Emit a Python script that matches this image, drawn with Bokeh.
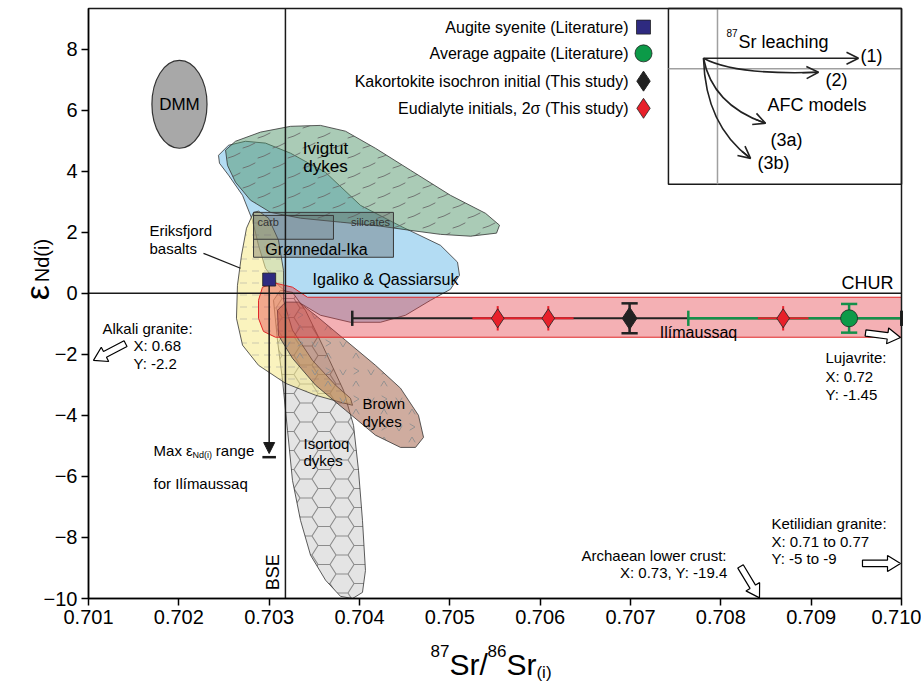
import base64
import numpy as np
from bokeh.plotting import figure
from bokeh.models import (Range1d, Label, Arrow, OpenHead, NormalHead, LinearAxis,
                          FixedTicker, NumeralTickFormatter, ImageURLTexture)
from bokeh.embed import file_html
from bokeh.resources import INLINE

FONT = "Liberation Sans"

# ---------------------------------------------------------------- axes
x_ticks = [0.701, 0.702, 0.703, 0.704, 0.705, 0.706, 0.707, 0.708, 0.709, 0.710]
y_ticks = [-10, -8, -6, -4, -2, 0, 2, 4, 6, 8]
X_MIN, X_MAX = 0.701, 0.710
Y_MIN, Y_MAX = -10.0, 9.33

# ---------------------------------------------------------------- reference lines
bse_sr = 0.70318      # bulk silicate earth
chur_nd = 0.0         # chondritic uniform reservoir

# ---------------------------------------------------------------- literature fields
igaliko_x = [0.702439, 0.702550, 0.702738, 0.702959, 0.703236, 0.703624, 0.704011,
             0.704454, 0.704897, 0.705085, 0.705107, 0.705007, 0.704786, 0.704509,
             0.704232, 0.703900, 0.703568, 0.703292, 0.703103, 0.702959, 0.702882,
             0.702815, 0.702705, 0.702550, 0.702450]
igaliko_y = [4.52, 4.85, 4.98, 4.92, 4.59, 3.96, 2.88, 2.20, 1.57, 1.02, 0.59, 0.13,
             -0.23, -0.72, -0.95, -0.95, -0.72, -0.23, 0.26, 0.82, 1.57, 2.39, 3.21,
             3.87, 4.26]

ivigtut_x = [0.702517, 0.702627, 0.702904, 0.703236, 0.703568, 0.703845, 0.704177,
             0.704565, 0.705007, 0.705395, 0.705550, 0.705517, 0.705229, 0.704897,
             0.704565, 0.704232, 0.703790, 0.703347, 0.703015, 0.702793, 0.702627,
             0.702539]
ivigtut_y = [4.69, 4.98, 5.28, 5.47, 5.50, 5.31, 4.75, 4.03, 3.21, 2.62, 2.23, 1.97,
             1.87, 1.93, 2.06, 2.20, 2.33, 2.46, 2.65, 3.05, 3.64, 4.19]

isortoq_x = [0.703048, 0.703125, 0.703258, 0.703402, 0.703590, 0.703823, 0.703934,
             0.703989, 0.704033, 0.704066, 0.704033, 0.703923, 0.703790, 0.703624,
             0.703458, 0.703347, 0.703258, 0.703203, 0.703148, 0.703092]
isortoq_y = [-0.23, 0.10, 0.03, -0.56, -1.70, -3.18, -4.33, -5.80, -7.44, -9.08,
             -9.80, -10.0, -9.93, -9.40, -8.58, -7.44, -6.13, -4.49, -2.85, -1.54]

eriksfjord_x = [0.702827, 0.702749, 0.702694, 0.702649, 0.702638, 0.702705, 0.702882,
                0.703181, 0.703513, 0.703790, 0.703923, 0.703900, 0.703734, 0.703480,
                0.703258, 0.703159, 0.703159, 0.703103, 0.702993, 0.702882]
eriksfjord_y = [2.65, 2.13, 1.25, 0.26, -0.82, -1.70, -2.36, -2.95, -3.34, -3.57,
                -3.67, -3.44, -3.01, -2.20, -1.21, -0.23, 0.75, 1.74, 2.46, 2.69]

brown_x = [0.703092, 0.703181, 0.703325, 0.703513, 0.703845, 0.704177, 0.704454,
           0.704653, 0.704709, 0.704620, 0.704454, 0.704177, 0.703845, 0.703513,
           0.703258, 0.703103]
brown_y = [-0.56, -0.29, -0.29, -0.72, -1.54, -2.36, -3.11, -4.00, -4.72, -5.05,
           -5.05, -4.65, -3.83, -3.01, -2.13, -1.38]

ilim_x = [0.702882, 0.702926, 0.703070, 0.703258, 0.703424, 0.710, 0.710,
          0.703070, 0.702937, 0.702882]
ilim_y = [-0.23, 0.20, 0.33, 0.20, -0.13, -0.13, -1.44, -1.44, -1.25, -0.82]

# Grønnedal-Ika: whole field and carbonatite sub-field
gron_left, gron_right, gron_bottom, gron_top = 0.702827, 0.704376, 1.18, 2.65
carb_left, carb_right, carb_bottom, carb_top = 0.702827, 0.703712, 1.77, 2.55

# depleted MORB mantle
dmm_x, dmm_y, dmm_w, dmm_h = 0.702007, 6.19, 0.00061, 2.88

# ---------------------------------------------------------------- samples
aug_x, aug_y, aug_ymin = [0.70300], [0.45], [-5.31]          # augite syenite
agp_x, agp_y = [0.70942], [-0.82]                              # average agpaite
agp_xlo, agp_xhi, agp_yerr = [0.70764], [0.71120], [0.47]
kak_x, kak_y = [0.70699], [-0.82]                              # kakortokite isochron
kak_xlo, kak_xhi, kak_yerr = [0.70392], [0.71000], [0.49]
eud_x = [0.70553, 0.70609, 0.70869]                            # eudialyte initials
eud_y = [-0.82, -0.82, -0.82]
eud_xerr = [0.00028, 0.00028, 0.00028]
eud_yerr = [0.40, 0.40, 0.40]

# values of off-scale reservoirs (pointed at with hollow arrows)
alkali_y = -2.2
lujavrite_y = -1.45

# ---------------------------------------------------------------- figure
# The frame fills the whole canvas; the axes are pinned to the data box so
# that the axis titles can be composed from several text runs.
W, H = 921, 683
ML, MR, MT, MB = 88, 20, 8, 85
PX_X = (W - ML - MR) / (X_MAX - X_MIN)
PX_Y = (H - MT - MB) / (Y_MAX - Y_MIN)

p = figure(width=W, height=H,
           x_range=Range1d(X_MIN - ML / PX_X, X_MAX + MR / PX_X),
           y_range=Range1d(Y_MIN - MB / PX_Y, Y_MAX + MT / PX_Y),
           output_backend="svg", toolbar_location=None,
           x_axis_location=None, y_axis_location=None,
           min_border=0)
p.grid.visible = False
p.outline_line_color = None
p.background_fill_color = "white"
p.border_fill_color = "white"

xaxis = LinearAxis(fixed_location=Y_MIN, bounds=(X_MIN, X_MAX),
                   ticker=FixedTicker(ticks=x_ticks),
                   formatter=NumeralTickFormatter(format="0.000"))
yaxis = LinearAxis(fixed_location=X_MIN, bounds=(Y_MIN, Y_MAX),
                   ticker=FixedTicker(ticks=y_ticks))
for ax in (xaxis, yaxis):
    ax.axis_line_width = 1.5
    ax.major_tick_line_width = 1.5
    ax.major_tick_out = 7
    ax.major_tick_in = 0
    ax.minor_tick_line_color = None
    ax.major_label_text_font = FONT
    ax.major_label_text_font_size = "20px"
    ax.major_label_text_color = "black"
    ax.major_label_standoff = 4
p.add_layout(xaxis, "below")
p.add_layout(yaxis, "left")


def label(x, y, s, size=16, align="left", baseline="middle", angle=0, color="black"):
    p.add_layout(Label(x=x, y=y, text=s, text_font=FONT, text_font_size=f"{size}px",
                       text_align=align, text_baseline=baseline, angle=angle,
                       text_color=color))


def block_arrow(x0, y0, x1, y1, shaft=3.2, head=8.0, head_len=13.0):
    """Hollow block arrow from (x0, y0) to tip (x1, y1)."""
    a = np.array([x0 * PX_X, y0 * PX_Y])
    b = np.array([x1 * PX_X, y1 * PX_Y])
    d = (b - a) / np.linalg.norm(b - a)
    n = np.array([-d[1], d[0]])
    base = b - d * head_len
    pts = [a + n * shaft, base + n * shaft, base + n * head, b,
           base - n * head, base - n * shaft, a - n * shaft]
    xs = [q[0] / PX_X for q in pts]
    ys = [q[1] / PX_Y for q in pts]
    p.patch(xs, ys, fill_color="white", line_color="black", line_width=1.2)


def svg_texture(w, h, path_d, stroke="#8a8a8a", sw=1.0):
    svg = (f'<svg xmlns="http://www.w3.org/2000/svg" width="{w}" height="{h}" '
           f'viewBox="0 0 {w} {h}"><path d="{path_d}" fill="none" stroke="{stroke}" '
           f'stroke-width="{sw}" stroke-linecap="round"/></svg>')
    url = "data:image/svg+xml;base64," + base64.b64encode(svg.encode()).decode()
    return ImageURLTexture(url=url, repetition="repeat")


def honeycomb(w=36, h=19):
    parts = []
    for i in range(-1, 3):
        for j in range(-1, 3):
            for cx, cy in ((i * w, j * h + 4), (i * w + w / 2, j * h + h / 2 + 4)):
                pts = [(cx - w / 3, cy), (cx - w / 6, cy - h / 2), (cx + w / 6, cy - h / 2),
                       (cx + w / 3, cy), (cx + w / 6, cy + h / 2), (cx - w / 6, cy + h / 2)]
                parts.append("M" + " L".join(f"{x:.1f},{y:.1f}" for x, y in pts) + " Z")
    return svg_texture(w, h, " ".join(parts), stroke="#8c8c8c", sw=1.1)


def chevrons(w=28, h=28):
    d = ("M4,6 L7,11 L10,6 M17,22 L20,17 L23,22 "
         "M18,4 L23,7 L18,10")
    return svg_texture(w, h, d, stroke="#8f8f8f", sw=0.9)


def strokes(w=30, h=20):
    d = "M3,8 L9,6 L15,3 M18,18 L24,16 L30,13 M-12,18 L-6,16 L0,13"
    return svg_texture(w, h, d, stroke="#6a6a6a", sw=0.9)


# ---------------------------------------------------------------- fields
p.patch(igaliko_x, igaliko_y, fill_color="#7cc2ea", fill_alpha=0.58,
        line_color="#333333", line_width=0.8)
p.patch(ivigtut_x, ivigtut_y, fill_color="#4a9064", fill_alpha=0.47,
        line_color="#333333", line_width=0.8,
        hatch_pattern="strokes", hatch_extra={"strokes": strokes()},
        hatch_alpha=0.8)
p.patch(isortoq_x, isortoq_y, fill_color="#e4e4e4", fill_alpha=1.0,
        line_color="#333333", line_width=0.8,
        hatch_pattern="honeycomb", hatch_extra={"honeycomb": honeycomb()},
        hatch_alpha=1.0)
p.patch(eriksfjord_x, eriksfjord_y, fill_color="#f5ea88", fill_alpha=0.55,
        line_color="#333333", line_width=0.8,
        hatch_pattern="horizontal_dash", hatch_color="#9a9a9a",
        hatch_alpha=0.6, hatch_scale=12, hatch_weight=0.8)
p.patch(brown_x, brown_y, fill_color="#a05a40", fill_alpha=0.5,
        line_color="#333333", line_width=0.8,
        hatch_pattern="chevrons", hatch_extra={"chevrons": chevrons()},
        hatch_alpha=1.0)
p.patch(ilim_x, ilim_y, fill_color="#e3303a", fill_alpha=0.38,
        line_color="#e02828", line_width=1.0)
p.quad(left=[gron_left], right=[gron_right], bottom=[gron_bottom], top=[gron_top],
       fill_color="#5a5a5a", fill_alpha=0.35, line_color="#3a3a3a", line_width=1.0)
p.quad(left=[carb_left], right=[carb_right], bottom=[carb_bottom], top=[carb_top],
       fill_color="#5a5a5a", fill_alpha=0.2, line_color="#3a3a3a", line_width=1.0)
p.ellipse(x=[dmm_x], y=[dmm_y], width=[dmm_w], height=[dmm_h],
          fill_color="#a8a8a8", line_color="#333333", line_width=1.2)

# BSE and CHUR reference lines
p.segment(x0=[bse_sr], y0=[Y_MIN], x1=[bse_sr], y1=[Y_MAX], line_color="#1a1a1a",
          line_width=1.5)
p.segment(x0=[X_MIN], y0=[chur_nd], x1=[X_MAX], y1=[chur_nd], line_color="#1a1a1a",
          line_width=1.5)

# ---------------------------------------------------------------- error bars
cap_dx = 0.00009
kx1 = [min(v, X_MAX) for v in kak_xhi]
ax1 = [min(v, X_MAX) for v in agp_xhi]
p.segment(x0=kak_xlo, y0=kak_y, x1=kx1, y1=kak_y, line_color="#222222", line_width=2)
p.segment(x0=kak_xlo, y0=[v - 0.25 for v in kak_y], x1=kak_xlo,
          y1=[v + 0.25 for v in kak_y], line_color="#222222", line_width=2.5)
p.segment(x0=agp_xlo, y0=agp_y, x1=ax1, y1=agp_y, line_color="#15904a", line_width=2.5)
p.segment(x0=agp_xlo, y0=[v - 0.25 for v in agp_y], x1=agp_xlo,
          y1=[v + 0.25 for v in agp_y], line_color="#15904a", line_width=2.5)
p.segment(x0=kx1, y0=[v - 0.25 for v in kak_y], x1=kx1,
          y1=[v + 0.25 for v in kak_y], line_color="#222222", line_width=3)

ex0 = [x - e for x, e in zip(eud_x, eud_xerr)]
ex1 = [x + e for x, e in zip(eud_x, eud_xerr)]
p.segment(x0=ex0, y0=eud_y, x1=ex1, y1=eud_y, line_color="#e8202a", line_width=2)
p.segment(x0=eud_x, y0=[y - e for y, e in zip(eud_y, eud_yerr)], x1=eud_x,
          y1=[y + e for y, e in zip(eud_y, eud_yerr)], line_color="#e8202a", line_width=2)

for xs, ys, err, col in ((kak_x, kak_y, kak_yerr, "#222222"),
                         (agp_x, agp_y, agp_yerr, "#15904a")):
    lo = [y - e for y, e in zip(ys, err)]
    hi = [y + e for y, e in zip(ys, err)]
    p.segment(x0=xs, y0=lo, x1=xs, y1=hi, line_color=col, line_width=2.5)
    for ends in (lo, hi):
        p.segment(x0=[x - cap_dx for x in xs], y0=ends, x1=[x + cap_dx for x in xs],
                  y1=ends, line_color=col, line_width=2.5)

# augite syenite: maximum range arrow
p.add_layout(Arrow(end=NormalHead(size=11, fill_color="#1a1a1a", line_color="#1a1a1a"),
                   x_start=aug_x[0], y_start=aug_y[0] - 0.2, x_end=aug_x[0],
                   y_end=aug_ymin[0] + 0.06, line_width=1.5, line_color="#1a1a1a"))
p.segment(x0=[aug_x[0] - 0.000075], y0=[aug_ymin[0] - 0.06], x1=[aug_x[0] + 0.000075],
          y1=[aug_ymin[0] - 0.06], line_color="#1a1a1a", line_width=2.5)

# ---------------------------------------------------------------- markers
p.scatter(eud_x, eud_y, marker="diamond", size=19, fill_color="#e8202a",
          line_color="#222222", line_width=0.8)
p.scatter(kak_x, kak_y, marker="diamond", size=22, fill_color="#222222",
          line_color="#222222")
p.scatter(agp_x, agp_y, marker="circle", size=17, fill_color="#0c9a48",
          line_color="#222222", line_width=0.8)
p.scatter(aug_x, aug_y, marker="square", size=13, fill_color="#2e2a80",
          line_color="#222222", line_width=0.8)

# ---------------------------------------------------------------- legend
leg_text = ["Augite syenite (Literature)", "Average agpaite (Literature)",
            "Kakortokite isochron initial (This study)",
            "Eudialyte initials, 2\u03c3 (This study)"]
leg_y = [8.72, 7.86, 6.95, 6.06]
leg_mx, leg_tx = 0.707144, 0.706978
for s, yy in zip(leg_text, leg_y):
    label(leg_tx, yy, s, size=16, align="right")
p.scatter([leg_mx], [leg_y[0]], marker="square", size=14, fill_color="#2e2a80",
          line_color="#222222", line_width=0.8)
p.scatter([leg_mx], [leg_y[1]], marker="circle", size=17, fill_color="#0c9a48",
          line_color="#222222", line_width=0.8)
p.scatter([leg_mx], [leg_y[2]], marker="diamond", size=20, fill_color="#222222",
          line_color="#222222")
p.scatter([leg_mx], [leg_y[3]], marker="diamond", size=20, fill_color="#e8202a",
          line_color="#222222", line_width=0.8)

# ---------------------------------------------------------------- inset: process vectors
p.quad(left=[0.70742], right=[X_MAX], bottom=[3.57], top=[Y_MAX],
       fill_color="white", line_color="#1a1a1a", line_width=1.5)
p.segment(x0=[0.707963], y0=[3.57], x1=[0.707963], y1=[Y_MAX],
          line_color="#a0a0a0", line_width=1.5)
p.segment(x0=[0.70742], y0=[7.36], x1=[X_MAX], y1=[7.36],
          line_color="#a0a0a0", line_width=1.5)
ox, oy = 0.707808, 7.70
p.add_layout(Arrow(end=OpenHead(size=12, line_width=1.6, line_color="#222222"),
                   x_start=ox, y_start=oy, x_end=0.709524, y_end=oy,
                   line_width=1.6, line_color="#222222"))
curves = [((0.708162, 7.14), (0.709081, 7.24)),
          ((0.707908, 6.16), (0.708495, 5.57)),
          ((0.707830, 5.50), (0.708329, 4.42))]
for (cx, cy), (ex, ey) in curves:
    p.quadratic(x0=[ox], y0=[oy], x1=[ex], y1=[ey], cx=[cx], cy=[cy],
                line_color="#222222", line_width=1.6)
    t = 0.9
    bx = (1 - t) ** 2 * ox + 2 * (1 - t) * t * cx + t ** 2 * ex
    by = (1 - t) ** 2 * oy + 2 * (1 - t) * t * cy + t ** 2 * ey
    p.add_layout(Arrow(end=OpenHead(size=12, line_width=1.6, line_color="#222222"),
                       x_start=bx, y_start=by, x_end=ex, y_end=ey,
                       line_width=1.6, line_color="#222222"))
label(0.708062, 8.52, "87", size=10)
label(0.708196, 8.22, "Sr leaching", size=18)
label(0.709546, 7.77, "(1)", size=18)
label(0.709159, 6.98, "(2)", size=18)
label(0.708517, 6.16, "AFC models", size=18)
label(0.708550, 5.01, "(3a)", size=18)
label(0.708406, 4.26, "(3b)", size=18)

# box round the data area
p.quad(left=[X_MIN], right=[X_MAX], bottom=[Y_MIN], top=[Y_MAX], fill_color=None,
       line_color="#1a1a1a", line_width=1.5)

# ---------------------------------------------------------------- field labels
label(dmm_x, dmm_y, "DMM", size=17, align="center")
label(0.703624, 4.75, "Ivigtut", size=17, align="center")
label(0.703624, 4.16, "dykes", size=17, align="center")
label(0.701675, 2.06, "Eriksfjord", size=15)
label(0.701675, 1.47, "basalts", size=15)
p.segment(x0=[0.702273], y0=[1.31], x1=[0.702683], y1=[0.82], line_color="#1a1a1a",
          line_width=1.3)
label(0.702871, 2.33, "carb", size=11, color="#333333")
label(0.704122, 2.33, "silicates", size=11, color="#333333", align="center")
label(0.703524, 1.44, "Grønnedal-Ika", size=16, align="center")
label(0.704288, 0.46, "Igaliko & Qassiarsuk", size=16, align="center")
label(0.704033, -3.60, "Brown", size=15)
label(0.704033, -4.19, "dykes", size=15)
label(0.703380, -4.91, "Isortoq", size=15)
label(0.703380, -5.47, "dykes", size=15)
label(0.709912, 0.33, "CHUR", size=18, align="right")
label(0.707753, -1.28, "Ilímaussaq", size=16, align="center")
label(0.703037, -9.14, "BSE", size=18, align="center", angle=np.pi / 2)

# max range note
label(0.701720, -5.14, "Max \u03b5", size=15)
label(0.702150, -5.30, "Nd(i)", size=9)
label(0.702410, -5.14, "range", size=15)
label(0.701720, -6.23, "for Ilímaussaq", size=15)

# off-scale reservoirs
label(0.701155, -1.15, "Alkali granite:", size=15)
label(0.701498, -1.70, "X: 0.68", size=15)
label(0.701498, -2.29, "Y: -2.2", size=15)
block_arrow(0.701410, alkali_y + 0.55, 0.701055, alkali_y)

label(0.709159, -2.10, "Lujavrite:", size=15)
label(0.709159, -2.72, "X: 0.72", size=15)
label(0.709159, -3.31, "Y: -1.45", size=15)
block_arrow(0.709602, lujavrite_y + 0.15, 0.709989, lujavrite_y)

label(0.708561, -7.54, "Ketilidian granite:", size=15)
label(0.708561, -8.13, "X: 0.71 to 0.77", size=15)
label(0.708561, -8.68, "Y: -5 to -9", size=15)
block_arrow(0.709568, -8.85, 0.709989, -8.85)

label(0.708063, -8.58, "Archaean lower crust:", size=15, align="right")
label(0.708074, -9.14, "X: 0.73, Y: -19.4", size=15, align="right")
block_arrow(0.708218, -8.95, 0.708428, -9.98)

# ---------------------------------------------------------------- axis titles
label(0.704786, -11.73, "87", size=17, baseline="alphabetic")
label(0.704996, -12.16, "Sr/", size=30, baseline="alphabetic")
label(0.705417, -11.73, "86", size=17, baseline="alphabetic")
label(0.705627, -12.16, "Sr", size=30, baseline="alphabetic")
label(0.705959, -12.42, "(i)", size=17, baseline="alphabetic")

label(0.700435, -0.23, "\u03b5", size=34, baseline="alphabetic", angle=np.pi / 2)
label(0.700485, 0.36, "Nd(i)", size=20, baseline="alphabetic", angle=np.pi / 2)

open("out.html", "w").write(file_html(p, INLINE))
